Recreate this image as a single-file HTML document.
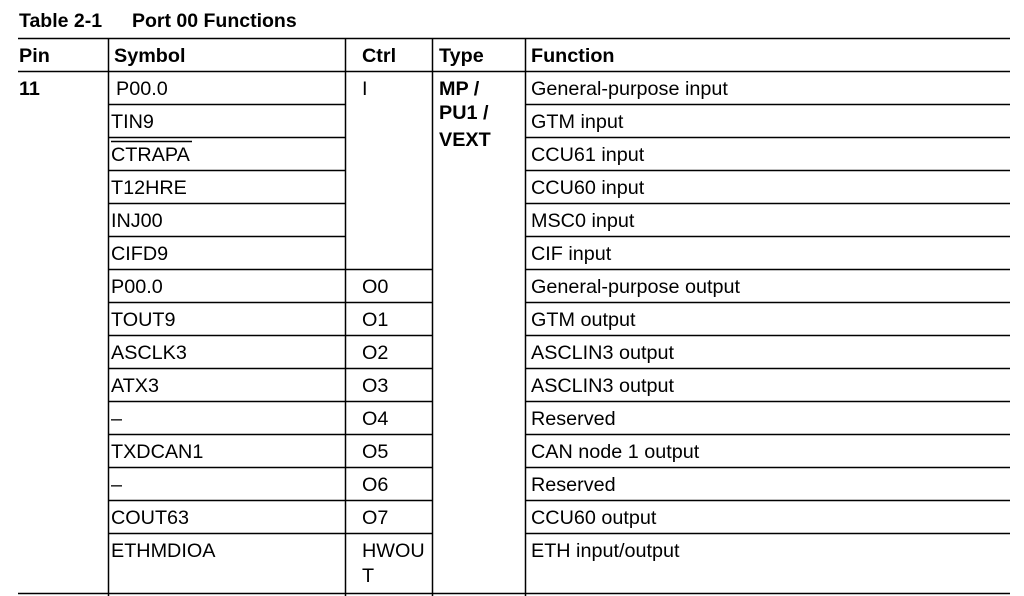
<!DOCTYPE html>
<html><head><meta charset="utf-8"><style>
html,body{margin:0;padding:0;background:#fff;width:1024px;height:596px;overflow:hidden}
svg text{font-family:"Liberation Sans",Arial,sans-serif;font-size:19.8px;fill:#000}
.b{font-weight:bold}
</style></head><body>
<svg width="1024" height="596" xmlns="http://www.w3.org/2000/svg">
<text class="b" x="19" y="27" style="font-size:19.5px">Table 2-1</text>
<text class="b" x="132" y="27" style="font-size:19.5px">Port 00 Functions</text>
<g stroke="#000" stroke-width="1.5">
<line x1="18" y1="38.5" x2="1010" y2="38.5"/>
<line x1="18" y1="71.5" x2="1010" y2="71.5"/>
<line x1="18" y1="593.5" x2="1010" y2="593.5"/>
<line x1="108.5" y1="38" x2="108.5" y2="596"/>
<line x1="345.5" y1="38" x2="345.5" y2="596"/>
<line x1="432.5" y1="38" x2="432.5" y2="596"/>
<line x1="525.5" y1="38" x2="525.5" y2="596"/>
<path d="M108 104.5H345M108 137.5H345M108 170.5H345M108 203.5H345M108 236.5H345M108 269.5H432M108 302.5H432M108 335.5H432M108 368.5H432M108 401.5H432M108 434.5H432M108 467.5H432M108 500.5H432M108 533.5H432"/>
<path d="M525 104.5H1010M525 137.5H1010M525 170.5H1010M525 203.5H1010M525 236.5H1010M525 269.5H1010M525 302.5H1010M525 335.5H1010M525 368.5H1010M525 401.5H1010M525 434.5H1010M525 467.5H1010M525 500.5H1010M525 533.5H1010"/>
<line x1="111" y1="141.5" x2="192" y2="141.5"/>
</g>
<text class="b" x="19" y="62">Pin</text>
<text class="b" x="114" y="62">Symbol</text>
<text class="b" x="362" y="62">Ctrl</text>
<text class="b" x="439" y="62">Type</text>
<text class="b" x="531" y="62">Function</text>
<text class="b" x="19" y="95">11</text>
<text class="b" x="439" y="95">MP /</text>
<text class="b" x="439" y="119">PU1 /</text>
<text class="b" x="439" y="146">VEXT</text>
<text x="116" y="95">P00.0</text>
<text x="111" y="128">TIN9</text>
<text x="111" y="161">CTRAPA</text>
<text x="111" y="194">T12HRE</text>
<text x="111" y="227">INJ00</text>
<text x="111" y="260">CIFD9</text>
<text x="111" y="293">P00.0</text>
<text x="111" y="326">TOUT9</text>
<text x="111" y="359">ASCLK3</text>
<text x="111" y="392">ATX3</text>
<text x="111" y="425">–</text>
<text x="111" y="458">TXDCAN1</text>
<text x="111" y="491">–</text>
<text x="111" y="524">COUT63</text>
<text x="111" y="557">ETHMDIOA</text>
<text x="362" y="95">I</text>
<text x="362" y="293">O0</text>
<text x="362" y="326">O1</text>
<text x="362" y="359">O2</text>
<text x="362" y="392">O3</text>
<text x="362" y="425">O4</text>
<text x="362" y="458">O5</text>
<text x="362" y="491">O6</text>
<text x="362" y="524">O7</text>
<text x="362" y="557">HWOU</text>
<text x="362" y="582">T</text>
<text x="531" y="95">General-purpose input</text>
<text x="531" y="128">GTM input</text>
<text x="531" y="161">CCU61 input</text>
<text x="531" y="194">CCU60 input</text>
<text x="531" y="227">MSC0 input</text>
<text x="531" y="260">CIF input</text>
<text x="531" y="293">General-purpose output</text>
<text x="531" y="326">GTM output</text>
<text x="531" y="359">ASCLIN3 output</text>
<text x="531" y="392">ASCLIN3 output</text>
<text x="531" y="425">Reserved</text>
<text x="531" y="458">CAN node 1 output</text>
<text x="531" y="491">Reserved</text>
<text x="531" y="524">CCU60 output</text>
<text x="531" y="557">ETH input/output</text>
</svg>
</body></html>
